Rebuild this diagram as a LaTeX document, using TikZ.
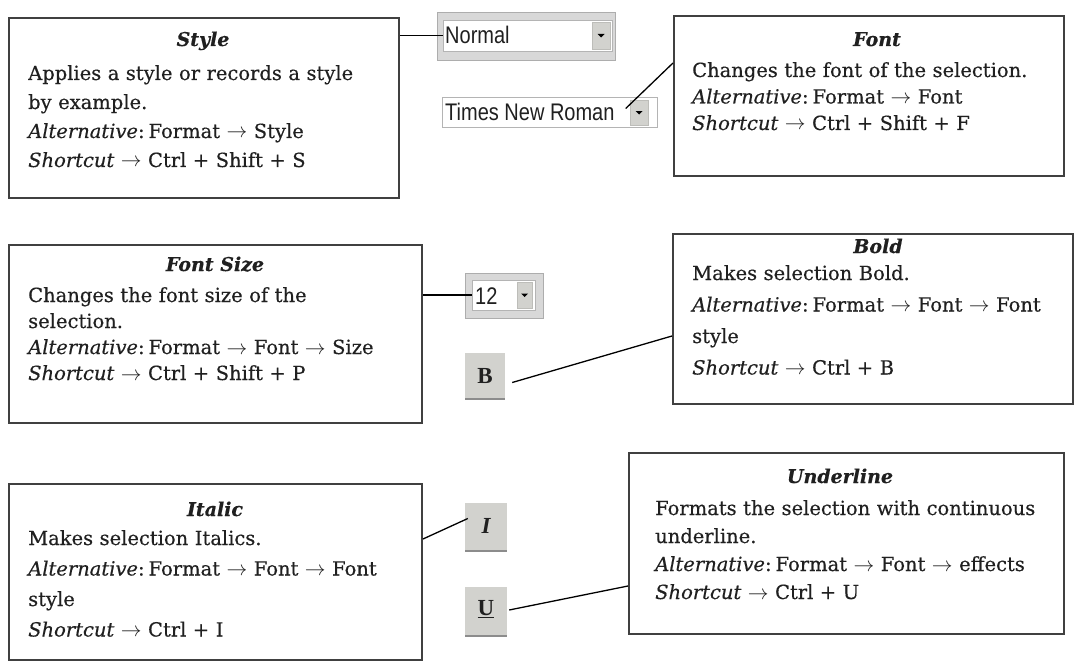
\documentclass[tikz,border=0pt]{standalone}
\usepackage{fontspec}
\setmainfont{DejaVu Serif}[FakeBold=0.4]
\newfontfamily\uifont{Liberation Sans}
\newfontfamily\btnfont{Liberation Serif}
\newcommand\ra{\ensuremath{\rightarrow}}
\newcommand\altw{\textit{Alternative}:\hspace{4pt}}
\newcommand\shw{\textit{Shortcut} \ra{} }
\definecolor{boxline}{HTML}{404040}
\definecolor{framegray}{HTML}{D8D8D8}
\definecolor{btngray}{HTML}{D2D2CE}
\definecolor{btnedge}{HTML}{8C8C8C}
\definecolor{fieldedge}{HTML}{B4B4B4}
\definecolor{inktext}{HTML}{202020}
\tikzset{
  infobox/.style={draw=boxline, line width=2pt, fill=white, inner sep=0pt, anchor=north west},
  ttl/.style={font=\fontsize{19}{22}\selectfont\bfseries\itshape, text=inktext, inner sep=0pt, anchor=base},
  body/.style={font=\fontsize{19.5}{#1}\selectfont, text=inktext, inner sep=0pt, anchor=base west, align=left, text width=420pt},
  conn/.style={draw=black, line width=1.3pt},
  wframe/.style={fill=framegray, draw=framegray!80!black, line width=0.8pt, inner sep=0pt},
  wfield/.style={fill=white, draw=fieldedge, line width=0.8pt, inner sep=0pt},
  wbtn/.style={fill=btngray, draw=btngray!90!black, line width=0.6pt, inner sep=0pt},
  uitext/.style={font=\uifont\fontsize{20}{24}\selectfont, text=inktext, inner sep=0pt, anchor=west},
  fmtbtn/.style={fill=btngray, inner sep=0pt, path picture={\fill[btnedge] ([yshift=2.5pt]path picture bounding box.south west) rectangle (path picture bounding box.south east);}},
  btnglyph/.style={font=\btnfont\fontsize{23}{26}\selectfont\bfseries, text=inktext, inner sep=0pt},
}
\begin{document}
\begin{tikzpicture}[x=1pt,y=-1pt]
\useasboundingbox[fill=white] (0,0) rectangle (1077,661);
\clip (0,0) rectangle (1077,661);

% ---------- info boxes ----------
\node[infobox, minimum width=390pt, minimum height=180pt] (stylebox) at (8,17) {};
\node[infobox, minimum width=390pt, minimum height=160pt] (fontbox) at (673,15) {};
\node[infobox, minimum width=413pt, minimum height=178pt] (fsbox) at (8,244) {};
\node[infobox, minimum width=400pt, minimum height=170pt] (boldbox) at (672,233) {};
\node[infobox, minimum width=413pt, minimum height=176pt] (itbox) at (8,483) {};
\node[infobox, minimum width=435pt, minimum height=181pt] (ulbox) at (628,452) {};

% ---------- texts ----------
\node[ttl] (styleT) at (203,46) {Style};
\node[body=29pt] (styleB) at (28,80) {Applies a style or records a style\\by example.\\\altw Format \ra{} Style\\\shw Ctrl + Shift + S};

\node[ttl] (fontT) at (877,46) {Font};
\node[body=26.5pt] (fontB) at (692,77) {Changes the font of the selection.\\\altw Format \ra{} Font\\\shw Ctrl + Shift + F};

\node[ttl] (fsT) at (215,271) {Font Size};
\node[body=26pt] (fsB) at (28,302) {Changes the font size of the\\selection.\\\altw Format \ra{} Font \ra{} Size\\\shw Ctrl + Shift + P};

\node[ttl] (boldT) at (878,253) {Bold};
\node[body=31.5pt] (boldB) at (692,280) {Makes selection Bold.\\\altw Format \ra{} Font \ra{} Font\\style\\\shw Ctrl + B};

\node[ttl] (itT) at (215,516) {Italic};
\node[body=30.5pt] (itB) at (28,545) {Makes selection Italics.\\\altw Format \ra{} Font \ra{} Font\\style\\\shw Ctrl + I};

\node[ttl] (ulT) at (840,483) {Underline};
\node[body=28pt] (ulB) at (655,515) {Formats the selection with continuous\\underline.\\\altw Format \ra{} Font \ra{} effects\\\shw Ctrl + U};

% ---------- widgets ----------
% Style drop-down
\node[wframe, minimum width=178pt, minimum height=48pt] (nframe) at (526,36) {};
\node[wfield, minimum width=169pt, minimum height=31pt] (nfield) at (527.5,35.5) {};
\node[wbtn, minimum width=18pt, minimum height=27pt] (nbtn) at (601,35.5) {};
\fill (nbtn.center) ++(-3.5,-1.5) -- ++(7,0) -- ++(-3.5,3.5) -- cycle;
\node[uitext] (ntext) at (445,35) {\scalebox{1}[1.2]{Normal}};

% Font drop-down
\node[wfield, minimum width=215pt, minimum height=30pt] (tfield) at (549.5,112) {};
\node[wbtn, minimum width=18pt, minimum height=25pt] (tbtn) at (639,112.5) {};
\fill (tbtn.center) ++(-3.5,-1.5) -- ++(7,0) -- ++(-3.5,3.5) -- cycle;
\node[uitext] (ttext) at (445,112) {\scalebox{1}[1.2]{Times New Roman}};

% Size drop-down
\node[wframe, minimum width=78pt, minimum height=45pt] (sframe) at (504,295.5) {};
\node[wfield, minimum width=63pt, minimum height=30pt] (sfield) at (503.5,295) {};
\node[wbtn, minimum width=15pt, minimum height=26pt] (sbtn) at (524.5,295) {};
\fill (sbtn.center) ++(-3.5,-1.5) -- ++(7,0) -- ++(-3.5,3.5) -- cycle;
\node[uitext] (stext) at (475,296) {\scalebox{1}[1.2]{12}};

% B, I, U buttons
\node[fmtbtn, minimum width=40pt, minimum height=47pt] (bbtn) at (485,376.5) {};
\node[btnglyph] (bglyph) at (485,376) {B};
\node[fmtbtn, minimum width=42pt, minimum height=49pt] (ibtn) at (486,527.5) {};
\node[btnglyph] (iglyph) at (486,526) {\itshape I};
\node[fmtbtn, minimum width=42pt, minimum height=50pt] (ubtn) at (486,612) {};
\node[btnglyph] (uglyph) at (486,609) {\underline{U}};

% ---------- connectors ----------
\draw[conn] (nfield.west -| stylebox.east) -- (nfield.west);
\draw[conn] ([shift={(-4pt,4pt)}]tbtn.west) -- ([yshift=33pt]fontbox.west);
\draw[conn] (sfield.west -| fsbox.east) -- (sfield.west);
\draw[conn] ([shift={(7pt,-6pt)}]bbtn.east) -- ([yshift=-17pt]boldbox.west);
\draw[conn] ([yshift=33pt]itbox.east) -- ([shift={(3pt,9pt)}]ibtn.west);
\draw[conn] ([shift={(2pt,2pt)}]ubtn.east) -- ([yshift=-42.5pt]ulbox.west);
\end{tikzpicture}
\end{document}
